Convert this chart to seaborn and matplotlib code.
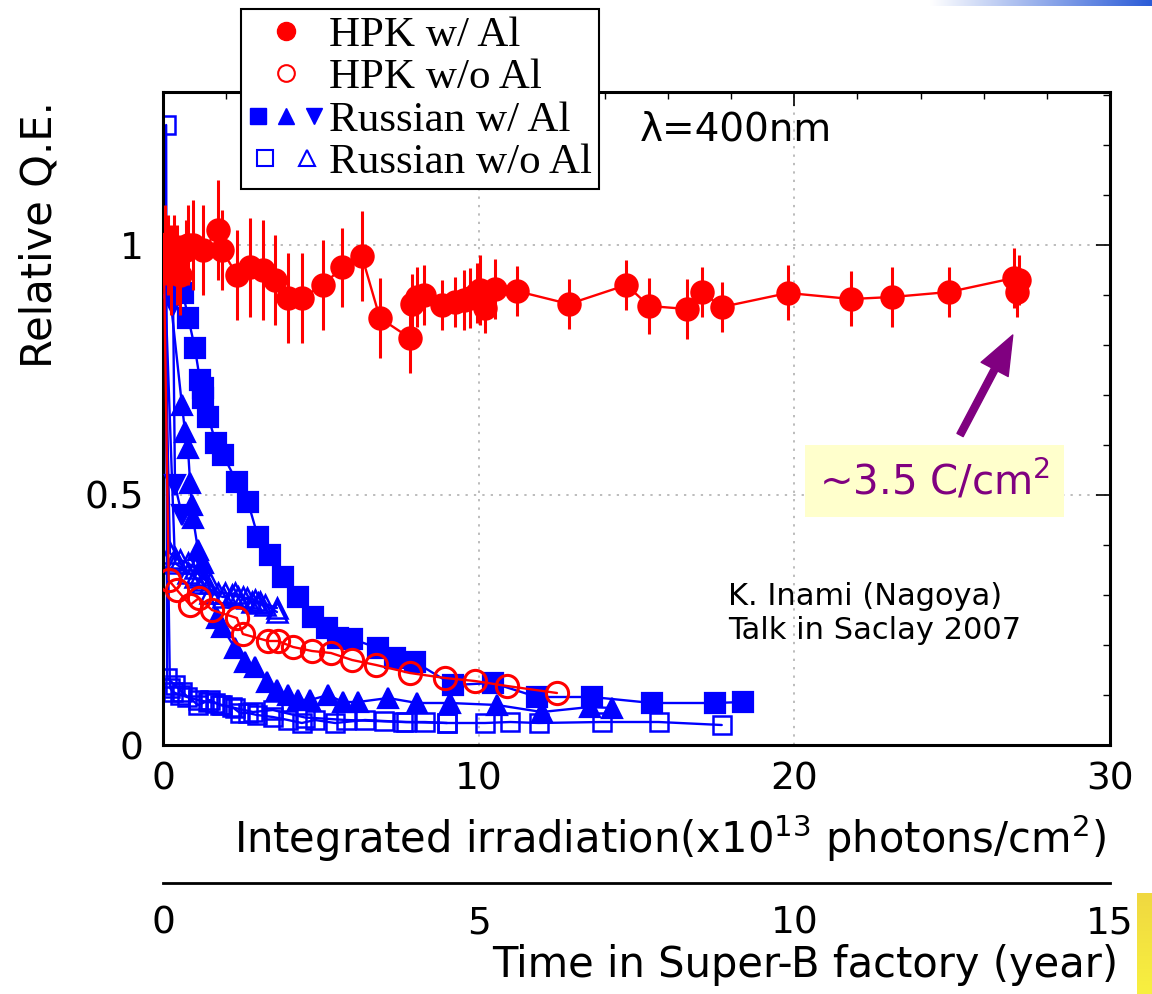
import numpy as np
import pandas as pd
import matplotlib
matplotlib.use('Agg')
import matplotlib.pyplot as plt
import seaborn as sns
from matplotlib.lines import Line2D
from matplotlib.legend_handler import HandlerTuple
from matplotlib.ticker import MultipleLocator, FixedLocator
from matplotlib.colors import LinearSegmentedColormap

# ---------------- data ----------------
hpk_al_x = [0.06, 0.15, 0.25, 0.35, 0.45, 0.55, 0.72, 0.80, 0.95, 1.27, 1.74, 1.87, 2.34, 2.75,
            3.17, 3.55, 3.96, 4.40, 5.07, 5.67, 6.30, 6.87, 7.82, 7.90, 8.05, 8.27, 8.84, 9.25,
            9.52, 9.74, 9.96, 10.04, 10.20, 10.52, 11.20, 12.86, 14.68, 15.40, 16.60, 17.07,
            17.70, 19.80, 21.80, 23.10, 24.90, 26.96, 27.12, 27.04]
hpk_al_y = [1.00, 0.98, 0.95, 0.99, 0.96, 0.94, 0.99, 1.00, 1.00, 0.99, 1.03, 0.99, 0.94, 0.955,
            0.95, 0.93, 0.894, 0.894, 0.92, 0.955, 0.978, 0.854, 0.814, 0.882, 0.895, 0.90, 0.88,
            0.886, 0.89, 0.894, 0.904, 0.91, 0.874, 0.912, 0.908, 0.882, 0.92, 0.878, 0.872, 0.906,
            0.876, 0.904, 0.892, 0.896, 0.906, 0.934, 0.93, 0.906]
hpk_al_err = [0.08, 0.08, 0.09, 0.07, 0.08, 0.08, 0.06, 0.08, 0.09, 0.09, 0.10, 0.08, 0.09, 0.10,
              0.10, 0.09, 0.09, 0.09, 0.09, 0.08, 0.09, 0.08, 0.07, 0.06, 0.06, 0.06, 0.05, 0.05,
              0.06, 0.06, 0.06, 0.07, 0.05, 0.06, 0.05, 0.05, 0.05, 0.055, 0.06, 0.05,
              0.05, 0.055, 0.055, 0.06, 0.05, 0.06, 0.05, 0.05]

hpk_noal_x = [0.02, 0.18, 0.44, 0.86, 1.14, 1.55, 2.34, 2.53, 3.33, 3.64, 4.12, 4.72, 5.32, 5.99,
              6.75, 7.82, 8.93, 9.88, 10.90, 12.48]
hpk_noal_y = [1.00, 0.33, 0.31, 0.28, 0.294, 0.27, 0.254, 0.222, 0.208, 0.208, 0.196, 0.188, 0.184,
              0.17, 0.16, 0.144, 0.134, 0.128, 0.118, 0.104]

rus_sq_x = [0.05, 0.63, 0.80, 1.01, 1.17, 1.27, 1.27, 1.43, 1.68, 1.90, 2.34, 2.69, 3.01, 3.39, 3.80,
            4.28, 4.75, 5.19, 5.54, 5.99, 6.81, 7.35, 7.98, 9.19, 10.45, 11.85, 13.59, 15.49, 17.48, 18.37]
rus_sq_y = [1.00, 0.904, 0.854, 0.794, 0.73, 0.714, 0.694, 0.656, 0.604, 0.58, 0.526, 0.486, 0.416,
            0.38, 0.336, 0.296, 0.256, 0.234, 0.214, 0.212, 0.194, 0.174, 0.166, 0.12, 0.124, 0.096,
            0.096, 0.084, 0.084, 0.086]

rus_tri_x = [0.05, 0.60, 0.70, 0.79, 0.86, 0.92, 0.95, 1.11, 1.27, 1.71, 1.87, 2.28, 2.60, 2.91, 3.29,
             3.61, 3.96, 4.28, 4.66, 5.23, 5.70, 6.18, 7.13, 8.05, 9.09, 10.58, 12.00, 13.52, 14.22]
rus_tri_y = [1.00, 0.68, 0.626, 0.594, 0.524, 0.48, 0.454, 0.39, 0.364, 0.254, 0.236, 0.194, 0.166,
             0.156, 0.126, 0.11, 0.10, 0.09, 0.09, 0.10, 0.086, 0.086, 0.094, 0.084, 0.084, 0.08,
             0.066, 0.076, 0.074]

rus_dtri_x = [0.05, 0.32, 0.38, 0.60]
rus_dtri_y = [1.00, 0.88, 0.52, 0.46]

rus_osq1_x = [0.02, 0.10, 0.13, 0.38, 0.60, 1.11, 1.49, 1.80, 2.28, 2.85, 3.48, 4.50, 5.80, 7.60,
              9.00, 10.20, 11.00, 11.90, 13.90, 15.70, 17.70]
rus_osq1_y = [1.00, 1.24, 0.134, 0.12, 0.106, 0.08, 0.09, 0.08, 0.074, 0.066, 0.07, 0.055, 0.05,
              0.046, 0.044, 0.044, 0.046, 0.044, 0.046, 0.046, 0.04]
rus_osq2_x = [0.02, 0.22, 0.32, 0.54, 0.76, 1.11, 1.43, 1.65, 1.87, 2.19, 2.44, 2.69, 2.98, 3.48,
              3.96, 4.40, 4.81, 5.45, 6.40, 7.00, 7.70, 8.30, 9.00]
rus_osq2_y = [1.00, 0.114, 0.106, 0.10, 0.096, 0.09, 0.086, 0.084, 0.08, 0.076, 0.064, 0.064, 0.06,
              0.056, 0.05, 0.044, 0.05, 0.044, 0.05, 0.048, 0.046, 0.046, 0.044]

rus_otri1_x = [0.02, 0.22, 0.38, 0.54, 0.79, 1.00, 1.17, 1.33, 1.49, 1.74, 1.96, 2.19, 2.38, 2.66,
               2.91, 3.07, 3.61]
rus_otri1_y = [1.00, 0.384, 0.374, 0.37, 0.364, 0.354, 0.34, 0.33, 0.324, 0.304, 0.304, 0.30, 0.296,
               0.294, 0.29, 0.286, 0.274]
rus_otri2_x = [0.02, 0.38, 0.79, 1.01, 1.24, 1.49, 1.90, 2.28, 2.53, 2.82, 3.01, 3.23, 3.61]
rus_otri2_y = [1.00, 0.364, 0.344, 0.336, 0.324, 0.304, 0.296, 0.304, 0.296, 0.286, 0.284, 0.28, 0.266]

legend_labels = ["HPK w/ Al", "HPK w/o Al", "Russian w/ Al", "Russian w/o Al"]
x_ticks = [0, 10, 20, 30]
y_ticks = [0, 0.5, 1]
y_ticklabels = ["0", "0.5", "1"]
time_ticks = [0, 5, 10, 15]

# ---------------- style ----------------
sns.set_theme(style='white')
plt.rcParams['font.family'] = ['DejaVu Sans']
plt.rcParams['mathtext.fontset'] = 'dejavusans'
plt.rcParams['text.color'] = 'black'
plt.rcParams['axes.labelcolor'] = 'black'
plt.rcParams['xtick.color'] = 'black'
plt.rcParams['ytick.color'] = 'black'

RED = '#ff0000'
BLUE = '#0000ff'
PURPLE = '#800080'

W, H = 1152, 994
fig = plt.figure(figsize=(W / 100, H / 100), dpi=100)
fig.patch.set_facecolor('white')
ax = fig.add_axes([163 / W, 1 - 745 / H, (1110 - 163) / W, (745 - 92) / H])


def draw(x, y, marker, color, ms, filled=True, z=2, mew=1.6):
    df = pd.DataFrame({'x': x, 'y': y})
    sns.lineplot(data=df, x='x', y='y', ax=ax, estimator=None, sort=False,
                 color=color, linewidth=1.7, marker=marker, markersize=ms,
                 markerfacecolor=(color if filled else 'none'),
                 markeredgecolor=color, markeredgewidth=mew, zorder=z)


# blue series first
draw(rus_osq1_x, rus_osq1_y, 's', BLUE, 13, filled=False, z=2, mew=1.8)
draw(rus_osq2_x, rus_osq2_y, 's', BLUE, 13, filled=False, z=2, mew=1.8)
draw(rus_otri1_x, rus_otri1_y, '^', BLUE, 14, filled=False, z=2, mew=1.8)
draw(rus_otri2_x, rus_otri2_y, '^', BLUE, 14, filled=False, z=2, mew=1.8)
draw(rus_tri_x, rus_tri_y, '^', BLUE, 15, z=3)
draw(rus_dtri_x, rus_dtri_y, 'v', BLUE, 15, z=3)
draw(rus_sq_x, rus_sq_y, 's', BLUE, 15, z=3)

# red series
draw(hpk_noal_x, hpk_noal_y, 'o', RED, 16, filled=False, z=4, mew=2.2)
ax.errorbar(hpk_al_x, hpk_al_y, yerr=hpk_al_err, fmt='none', ecolor=RED,
            elinewidth=2.2, capsize=0, zorder=5)
draw(hpk_al_x, hpk_al_y, 'o', RED, 16, z=6)

# axes styling
ax.set_xlim(0, 30)
ax.set_ylim(0, 1.306)
ax.xaxis.set_major_locator(FixedLocator(x_ticks))
ax.xaxis.set_minor_locator(MultipleLocator(2))
ax.yaxis.set_major_locator(FixedLocator(y_ticks))
ax.set_yticklabels(y_ticklabels)
ax.yaxis.set_minor_locator(MultipleLocator(0.1))
ax.set_xlabel('')
ax.set_ylabel('')
ax.tick_params(which='both', direction='in', top=True, right=True, colors='black',
               labelsize=27)
ax.tick_params(which='major', length=10, width=1.2)
ax.tick_params(which='minor', length=5, width=1.0)
ax.tick_params(axis='x', pad=12)
ax.tick_params(axis='y', pad=14)
for s in ax.spines.values():
    s.set_visible(True)
    s.set_color('black')
    s.set_linewidth(2.2)
ax.grid(False)
for gx in [10, 20]:
    ax.axvline(gx, color='#aaaaaa', lw=1.1, ls=(0, (1.5, 4)), zorder=0)
for gy in [0.5, 1.0]:
    ax.axhline(gy, color='#aaaaaa', lw=1.1, ls=(0, (1.5, 4)), zorder=0)

# secondary time axis
sec = ax.secondary_xaxis(-(883 - 745) / (745 - 92), functions=(lambda v: v / 2, lambda v: v * 2))
sec.set_xticks(time_ticks)
sec.tick_params(labelsize=27, length=0, pad=16, colors='black')
for s in sec.spines.values():
    s.set_color('black')
    s.set_linewidth(2.0)

# texts
ax.text(15.1, 1.23, 'λ=400nm', fontsize=28, va='center', ha='left', color='black')
ax.text(17.9, 0.263, 'K. Inami (Nagoya)\nTalk in Saclay 2007', fontsize=22,
        va='center', ha='left', color='black', linespacing=1.2)
ax.text(24.45, 0.528, '~3.5 C/cm$^2$', fontsize=29, color=PURPLE, ha='center', va='center',
        bbox=dict(boxstyle='square,pad=0.35', fc='#ffffcc', ec='none'), zorder=7)
ax.annotate('', xy=(26.92, 0.82), xytext=(25.25, 0.62),
            arrowprops=dict(color=PURPLE, width=5, headwidth=22, headlength=28, shrink=0),
            zorder=7)

fig.text(40 / W, 1 - 235 / H, 'Relative Q.E.', rotation=90, fontsize=30, ha='center',
         va='center', color='black')
fig.text(670 / W, 1 - 838 / H, 'Integrated irradiation(x10$^{13}$ photons/cm$^{2}$)',
         fontsize=30, ha='center', va='center', color='black')
fig.text(1118 / W, 1 - 965 / H, 'Time in Super-B factory (year)', fontsize=30,
         ha='right', va='center', color='black')

# legend
h1 = Line2D([], [], ls='none', marker='o', color=RED, ms=13)
h2 = Line2D([], [], ls='none', marker='o', mfc='none', mec=RED, mew=1.5, ms=12)
h3 = (Line2D([], [], ls='none', marker='s', color=BLUE, ms=12),
      Line2D([], [], ls='none', marker='^', color=BLUE, ms=12),
      Line2D([], [], ls='none', marker='v', color=BLUE, ms=12))
h4 = (Line2D([], [], ls='none', marker='s', mfc='none', mec=BLUE, mew=1.5, ms=12),
      Line2D([], [], ls='none', marker='^', mfc='none', mec=BLUE, mew=1.5, ms=12))
leg = fig.legend([h1, h2, h3, h4], legend_labels, loc='upper left',
                 bbox_to_anchor=(241 / W, 1 - 9 / H),
                 handler_map={tuple: HandlerTuple(ndivide=None, pad=0.15)},
                 prop=dict(family='Liberation Serif', size=31), frameon=True, fancybox=False,
                 edgecolor='black', framealpha=1, borderaxespad=0, labelspacing=0.08,
                 handlelength=1.8, handletextpad=0.1, borderpad=0.15)
leg.get_frame().set_linewidth(1.5)
leg.set_zorder(10)
for t in leg.get_texts():
    t.set_color('black')

# decorative slide bars
grad = np.linspace(0, 1, 256).reshape(1, -1)
gax = fig.add_axes([930 / W, 1 - 6 / H, (W - 930) / W, 6 / H])
gax.imshow(grad, aspect='auto', cmap=LinearSegmentedColormap.from_list('g', ['#ffffff', '#2a5bd7']))
gax.axis('off')
yax = fig.add_axes([1137 / W, 0, (W - 1137) / W, (H - 893) / H])
yax.imshow(np.linspace(0, 1, 256).reshape(-1, 1), aspect='auto',
           cmap=LinearSegmentedColormap.from_list('y', ['#f0d840', '#f8f040']))
yax.axis('off')

fig.savefig('out.png', dpi=100)
